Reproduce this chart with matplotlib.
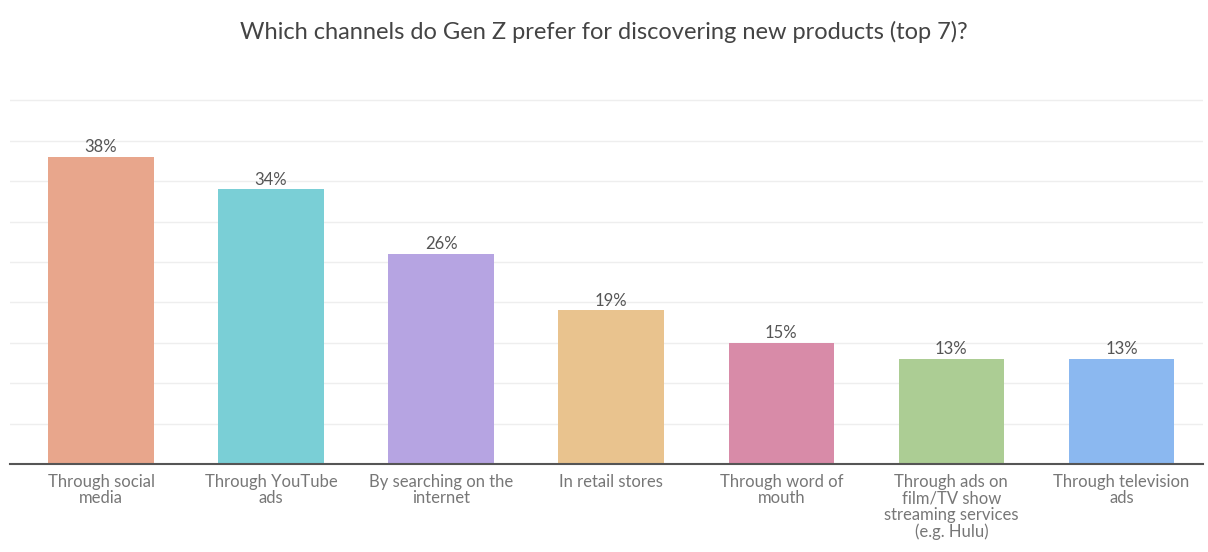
import matplotlib.pyplot as plt
import numpy as np

plt.rcParams['font.family'] = ['Lato', 'DejaVu Sans']

channels = ['Through social\nmedia', 'Through YouTube\nads', 'By searching on the\ninternet',
            'In retail stores', 'Through word of\nmouth',
            'Through ads on\nfilm/TV show\nstreaming services\n(e.g. Hulu)', 'Through television\nads']
share = [38, 34, 26, 19, 15, 13, 13]
colors = ['#E8A68C', '#7ACFD6', '#B6A4E2', '#E9C38E', '#D88BA8', '#ACCD94', '#8BB8F0']

fig = plt.figure(figsize=(12.08, 5.52), dpi=100)
ax = fig.add_axes([0.0083, 0.1594, 0.9876, 0.666])

x = np.arange(len(share))
bars = ax.bar(x, share, width=0.62, color=colors, zorder=2)
for b, v in zip(bars, share):
    ax.text(b.get_x() + b.get_width() / 2, v + 0.2, f'{v}%', ha='center', va='bottom',
            fontsize=12, color='#555555')

ax.set_xlim(-0.535, 6.48)
ax.set_ylim(0, 45.5)
ax.set_yticks(np.arange(5, 50, 5))
ax.yaxis.grid(True, color='#eeeeee', linewidth=1, zorder=0)
ax.tick_params(axis='y', left=False, labelleft=False)
ax.set_xticks(x)
ax.set_xticklabels(channels, fontsize=12, color='#777777', linespacing=1.05)
ax.tick_params(axis='x', length=0, pad=7)
for s in ['top', 'right', 'left']:
    ax.spines[s].set_visible(False)
ax.spines['bottom'].set_color('#555555')
ax.spines['bottom'].set_linewidth(1.5)

fig.text(0.5, 0.942, 'Which channels do Gen Z prefer for discovering new products (top 7)?',
         ha='center', va='center', fontsize=17, color='#444444')

fig.savefig('out.png', dpi=100, facecolor='white')
